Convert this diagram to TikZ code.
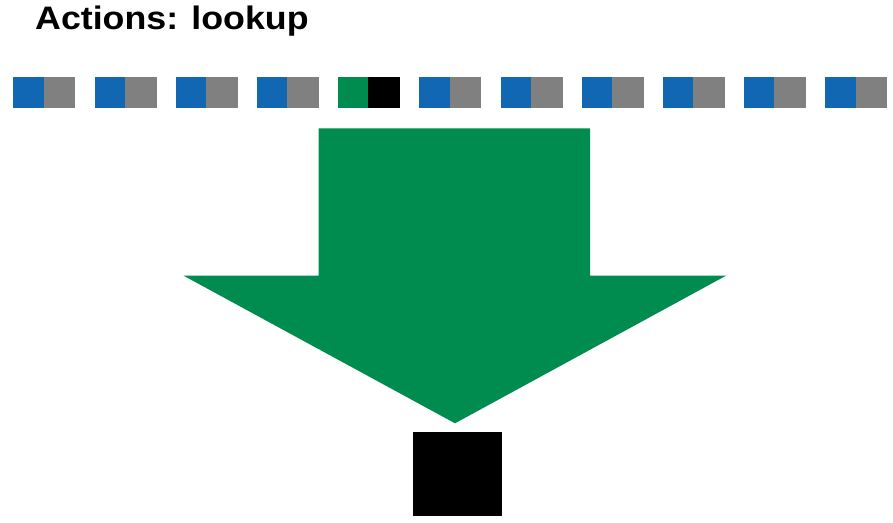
\documentclass[tikz,border=0pt]{standalone}
\usepackage{fontspec}
\setmainfont{Liberation Sans}
\definecolor{cellblue}{RGB}{17,103,177}
\definecolor{cellgray}{RGB}{128,128,128}
\definecolor{arrowgreen}{RGB}{0,140,78}
\begin{document}
\begin{tikzpicture}[x=1pt,y=-1pt,
  cell/.style={inner sep=0pt,outer sep=0pt,minimum height=31pt,anchor=north west,draw=none},
  lcell/.style={cell,minimum width=30.3pt},
  rcell/.style={cell,minimum width=31.7pt}]
\useasboundingbox (0,0) rectangle (893,522);
\node[anchor=base west,inner sep=0pt] (title) at (35,29.3)
  {\scalebox{1.1}[1]{\fontsize{32.5}{39}\selectfont\bfseries Actions: lookup}};
\foreach \i in {0,...,10}{
  \pgfmathsetmacro{\xx}{13.3+81.2*\i}
  \ifnum\i=4
    \node[lcell,fill=arrowgreen] (l\i) at (\xx,77.3) {};
    \node[rcell,fill=black] (r\i) at (l\i.north east) {};
  \else
    \node[lcell,fill=cellblue] (l\i) at (\xx,77.3) {};
    \node[rcell,fill=cellgray] (r\i) at (l\i.north east) {};
  \fi
}
\fill[arrowgreen] (318.6,128.3) -- (590,128.3) -- (590,275.7) -- (726,275.7)
  -- (455,423.3) -- (183.6,275.7) -- (318.6,275.7) -- cycle;
\node[inner sep=0pt,outer sep=0pt,anchor=north west,fill=black,
  minimum width=88.7pt,minimum height=84.3pt] (result) at (413,431.7) {};
\end{tikzpicture}
\end{document}
